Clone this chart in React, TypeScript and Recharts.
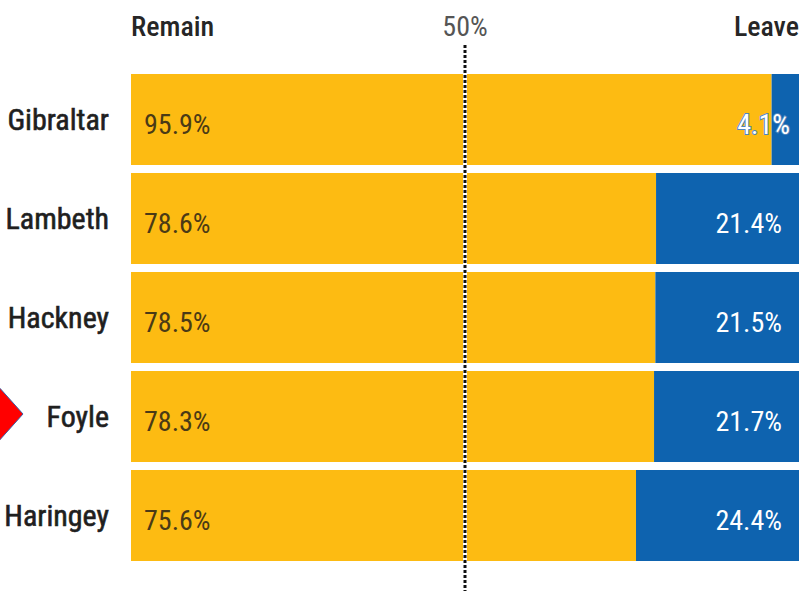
import { Bar, BarChart, LabelList, ReferenceLine, XAxis, YAxis } from "recharts";

const AREAS = ["Gibraltar", "Lambeth", "Hackney", "Foyle", "Haringey"];
const REMAIN = [95.9, 78.6, 78.5, 78.3, 75.6];
const LEAVE = [4.1, 21.4, 21.5, 21.7, 24.4];
const HEADER_TICKS = [0, 50, 100];
const HEADER_LABELS: Record<number, string> = { 0: "Remain", 50: "50%", 100: "Leave" };

const FONT = "'Liberation Sans Narrow', 'Arial Narrow', 'Roboto Condensed', sans-serif";
const YELLOW = "#FDBB12";
const BLUE = "#0E63AF";

const data = AREAS.map((name, i) => ({ name, remain: REMAIN[i], leave: LEAVE[i] }));

function HeaderTick(props: any) {
  const { x, y, payload } = props;
  const v = payload.value as number;
  const anchor = v === 0 ? "start" : v === 100 ? "end" : "middle";
  const isMid = v === 50;
  return (
    <text
      x={x}
      y={y - 26}
      textAnchor={anchor}
      fontFamily={FONT}
      fontSize={28}
      fontWeight={isMid ? 400 : 500}
      fill={isMid ? "#555" : "#262626"}
    >
      {HEADER_LABELS[v]}
    </text>
  );
}

function AreaTick(props: any) {
  const { x, y, payload } = props;
  return (
    <text x={x} y={y} dy={10} textAnchor="end" fontFamily={FONT} fontSize={30} fontWeight={400} fill="#1f1f1f" stroke="#1f1f1f" strokeWidth={0.6}>
      {payload.value}
    </text>
  );
}

function RemainLabel(props: any) {
  const { x, y, height, value } = props;
  return (
    <text x={x + 13} y={y + height / 2 + 14} fontFamily={FONT} fontSize={28} fill="#4a3a16">
      {value}%
    </text>
  );
}

function LeaveLabel(props: any) {
  const { x, y, width, height, value } = props;
  const narrow = width < 50;
  return (
    <text
      x={x + width - (narrow ? 9 : 17)}
      y={y + height / 2 + 14}
      textAnchor="end"
      fontFamily={FONT}
      fontSize={28}
      fill="#ffffff"
      stroke={narrow ? "#4f86bd" : "none"}
      strokeWidth={narrow ? 2 : 0}
      paintOrder="stroke"
    >
      {value}%
    </text>
  );
}

function DottedLine(props: any) {
  const { x1, x2 } = props;
  return (
    <g>
      <line x1={x1} x2={x2} y1={45} y2={591} stroke="#ffffff" strokeWidth={4} />
      <line x1={x1} x2={x2} y1={45} y2={591} stroke="#111" strokeWidth={3} strokeDasharray="3 2" />
    </g>
  );
}

export default function App() {
  return (
    <div style={{ position: "absolute", left: 0, top: 0, width: 800, height: 591, background: "#fff", overflow: "hidden" }}>
      <svg width={30} height={80} style={{ position: "absolute", left: 0, top: 375 }}>
        <polygon points="-3,10 23,39 -3,68" fill="#ff0000" stroke="#3a5fa8" strokeWidth={1} />
      </svg>
      <BarChart
        width={800}
        height={591}
        data={data}
        layout="vertical"
        margin={{ top: 40, right: 1, bottom: 26, left: 0 }}
        style={{ position: "absolute", left: 0, top: 0 }}
      >
        <XAxis
          type="number"
          orientation="top"
          domain={[0, 100]}
          ticks={HEADER_TICKS}
          height={30}
          axisLine={false}
          tickLine={false}
          tick={<HeaderTick />}
          interval={0}
        />
        <YAxis
          type="category"
          dataKey="name"
          width={131}
          axisLine={false}
          tickLine={false}
          tickSize={0}
          tickMargin={22}
          tick={<AreaTick />}
        />
        <Bar dataKey="remain" stackId="a" fill={YELLOW} barSize={91} isAnimationActive={false}>
          <LabelList dataKey="remain" content={<RemainLabel />} />
        </Bar>
        <Bar dataKey="leave" stackId="a" fill={BLUE} barSize={91} isAnimationActive={false}>
          <LabelList dataKey="leave" content={<LeaveLabel />} />
        </Bar>
        <ReferenceLine x={50} shape={<DottedLine />} ifOverflow="visible" />
      </BarChart>
    </div>
  );
}
